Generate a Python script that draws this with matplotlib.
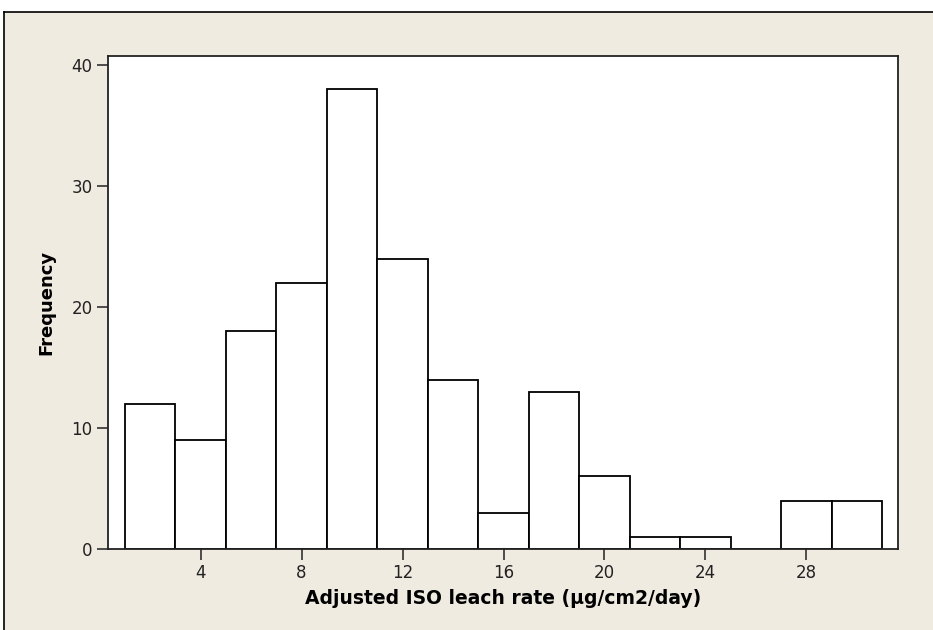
import numpy as np
import matplotlib
matplotlib.use("Agg")
import matplotlib.pyplot as plt
from matplotlib.patches import Rectangle
from matplotlib.lines import Line2D

# histogram bins (width 2, from 1 to 31) and counts
bin_edges = [1, 3, 5, 7, 9, 11, 13, 15, 17, 19, 21, 23, 25, 27, 29, 31]
counts = [12, 9, 18, 22, 38, 24, 14, 3, 13, 6, 1, 1, 0, 4, 4]
x_ticks = [4, 8, 12, 16, 20, 24, 28]
y_ticks = [0, 10, 20, 30, 40]

BG = "#f0ebe1"

fig = plt.figure(figsize=(9.33, 6.3), dpi=100, facecolor="white")
# beige panel, black frame only on top and left like the original export
x0, y1 = 4 / 933, 1 - 12 / 630
fig.patches.append(Rectangle((x0, 0), 1, y1, transform=fig.transFigure,
                             facecolor=BG, edgecolor="none", zorder=-10))
fig.lines.append(Line2D([x0, 1], [y1, y1], transform=fig.transFigure,
                        color="black", linewidth=1.2))
fig.lines.append(Line2D([x0, x0], [0, y1], transform=fig.transFigure,
                        color="black", linewidth=1.2))

ax = fig.add_axes([108 / 933, 1 - 549 / 630, (898 - 108) / 933, (549 - 56) / 630])
ax.set_facecolor("white")

widths = np.diff(bin_edges)
ax.bar(bin_edges[:-1], counts, width=widths, align="edge",
       facecolor="white", edgecolor="black", linewidth=1.3)

ax.set_xlim(0.33, 31.63)
ax.set_ylim(0, 40.75)
ax.set_xticks(x_ticks)
ax.set_yticks(y_ticks)

for s in ax.spines.values():
    s.set_linewidth(1.3)
    s.set_color("#222222")

ax.tick_params(direction="out", length=8, width=1.1, labelsize=12,
               colors="#222222", pad=3)

ax.set_xlabel("Adjusted ISO leach rate (µg/cm2/day)", fontsize=13.5,
              fontweight="bold", labelpad=5)
ax.set_ylabel("Frequency", fontsize=13, fontweight="bold", labelpad=12)

fig.savefig("out.png", dpi=100, facecolor=fig.get_facecolor())
